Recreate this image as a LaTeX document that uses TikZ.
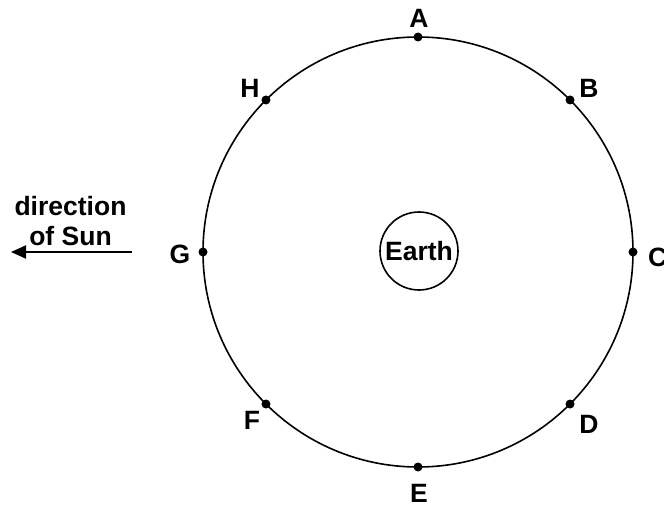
\documentclass[tikz,border=0pt]{standalone}
\usepackage{fontspec}
\setmainfont{Liberation Sans}
\usetikzlibrary{arrows.meta}
\begin{document}
\begin{tikzpicture}[x=1pt,y=-1pt,
  lbl/.style={inner sep=0pt, font=\bfseries\fontsize{26.5}{30}\selectfont},
  orbitline/.style={draw, line width=1.6pt},
  pt/.style={circle, fill=black, inner sep=0pt, minimum size=9pt}]
\useasboundingbox (0,0) rectangle (664,508);
\node[circle, orbitline, minimum size=430pt, inner sep=0pt, outer sep=0pt] (orbit) at (418,252) {};
\node[circle, orbitline, minimum size=78pt, inner sep=0pt, outer sep=0pt, lbl] (earth) at (419,251) {Earth};
\node[pt] (pA) at (orbit.90) {};
\node[pt] (pB) at (orbit.45) {};
\node[pt] (pC) at (orbit.0) {};
\node[pt] (pD) at (orbit.-45) {};
\node[pt] (pE) at (orbit.-90) {};
\node[pt] (pF) at (orbit.-135) {};
\node[pt] (pG) at (orbit.180) {};
\node[pt] (pH) at (orbit.135) {};
\node[lbl] (lA) at (419,18) {A};
\node[lbl] (lB) at (589,88) {B};
\node[lbl, anchor=west] (lC) at (648,257) {C};
\node[lbl] (lD) at (589,424) {D};
\node[lbl] (lE) at (419,493) {E};
\node[lbl] (lF) at (252,420) {F};
\node[lbl] (lG) at (180,254) {G};
\node[lbl] (lH) at (250,88) {H};
\node[lbl, anchor=base] (dir1) at (70.5,215) {direction};
\node[lbl, anchor=base] (dir2) at (70.5,245) {of Sun};
\coordinate (sunstart) at (132,252);
\coordinate (sunend) at (11,252);
\draw[line width=2pt, -{Triangle[length=15pt,width=13pt]}] (sunstart) -- (sunend);
\end{tikzpicture}
\end{document}
